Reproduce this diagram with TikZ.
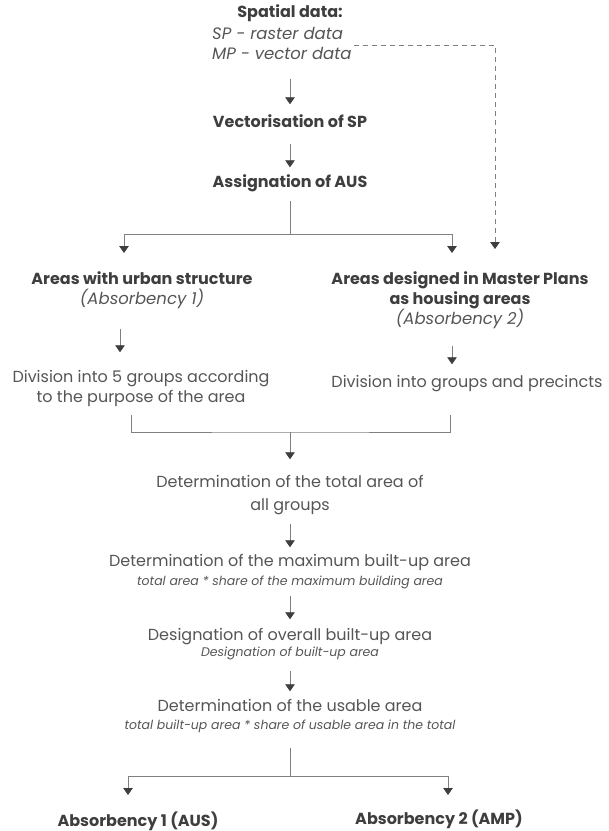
\documentclass[tikz,border=0pt]{standalone}
\usepackage{fontspec}
\setmainfont{Poppins}
\usetikzlibrary{arrows.meta}
\definecolor{txtgray}{HTML}{3E3E3E}
\definecolor{lightgray}{HTML}{555555}
\definecolor{linegray}{HTML}{808080}
\begin{document}
\begin{tikzpicture}[x=1pt, y=-1pt,
    lbl/.style={inner sep=0pt, text=lightgray, font=\fontsize{16}{19}\selectfont, text height=11.5pt, text depth=3.5pt},
    hdr/.style={lbl, text=txtgray, font=\fontsize{16}{19}\selectfont\bfseries},
    itl/.style={lbl, font=\fontsize{16.5}{19}\selectfont\itshape},
    sml/.style={lbl, font=\fontsize{12.5}{15}\selectfont\itshape, text height=9pt, text depth=2.5pt},
    link/.style={draw=linegray, line width=0.8pt},
    arr/.style={link, -{Triangle[width=9.5pt, length=7pt, color=txtgray]}, shorten <=10pt, shorten >=8pt},
    dashlink/.style={link, dashed, dash pattern=on 5pt off 4pt, -{Triangle[width=9.5pt, length=7pt, color=txtgray]}}]
    \useasboundingbox (0,0) rectangle (609,831);

    % input data
    \node [hdr] (spatial) at (290,13) {Spatial data:};
    \node [itl, anchor=west] (sp) at (212,35) {SP - raster data};
    \node [itl, anchor=west] (mp) at (212,55) {MP - vector data};

    \node [hdr] (vect) at (290,123) {Vectorisation of SP};
    \node [hdr] (assign) at (290,183) {Assignation of AUS};

    \draw [arr, shorten <=16pt, shorten >=11pt] (mp.south -| vect) -- (vect.north);
    \draw [arr, shorten <=13pt] (vect) -- (assign);

    % split into the two kinds of areas
    \coordinate (splitA) at (290,234);
    \coordinate (tipA1) at (124,253);
    \coordinate (tipA2) at (452,253);
    \draw [link, shorten <=10pt] (assign.south) -- (splitA);
    \draw [arr, shorten <=0pt, shorten >=0pt] (splitA) -| (tipA1);
    \draw [arr, shorten <=0pt, shorten >=0pt] (splitA) -| (tipA2);

    \coordinate (dashA) at (354,45);
    \coordinate (dashB) at (495,45);
    \coordinate (tipD) at (495,249);
    \draw [dashlink] (dashA) -- (dashB) -- (tipD);

    \node [hdr] (urban) at (142,280) {Areas with urban structure};
    \node [itl] (abs1) at (142,300) {(Absorbency 1)};
    \node [hdr] (master) at (460,280) {Areas designed in Master Plans};
    \node [hdr] (housing) at (460,300) {as housing areas};
    \node [itl] (abs2) at (460,320) {(Absorbency 2)};

    \node [lbl] (div1a) at (141,378) {Division into 5 groups according};
    \node [lbl] (div1b) at (141,398) {to the purpose of the area};
    \node [lbl] (div2) at (467,383) {Division into groups and precincts};

    \draw [arr, shorten <=21pt, shorten >=18pt] ([xshift=-22pt]abs1.south) -- ([xshift=-22pt]abs1.south |- div1a.north);
    \draw [arr, shorten <=18pt, shorten >=11pt] ([xshift=-8pt]abs2.south) -- ([xshift=-8pt]abs2.south |- div2.north);

    % joining the groups
    \coordinate (joinL) at (131,415);
    \coordinate (joinR) at (450,415);
    \coordinate (joinM) at (290,432);
    \draw [link] (joinL) |- (joinM) -| (joinR);

    \node [lbl] (total) at (290,483) {Determination of the total area of};
    \node [lbl] (totalb) at (290,506) {all groups};
    \draw [arr, shorten <=0pt, shorten >=16pt] (joinM) -- (total.north);

    \node [lbl] (maxbu) at (290,562) {Determination of the maximum built-up area};
    \node [sml] (maxbus) at (290,582) {total area * share of the maximum building area};
    \draw [arr, shorten >=7pt] (totalb) -- (maxbu);

    \node [lbl] (overall) at (290,636) {Designation of overall built-up area};
    \node [sml] (overalls) at (290,653) {Designation of built-up area};
    \draw [arr, shorten <=8pt, shorten >=9pt] (maxbus) -- (overall);

    \node [lbl] (usable) at (290,707) {Determination of the usable area};
    \node [sml] (usables) at (290,726) {total built-up area * share of usable area in the total};
    \draw [arr, shorten <=12pt] (overalls) -- (usable);

    % final split
    \coordinate (splitB) at (290,776);
    \coordinate (tipB1) at (128,795);
    \coordinate (tipB2) at (448,795);
    \draw [link, shorten <=16pt] (usables.south) -- (splitB);
    \draw [arr, shorten <=0pt, shorten >=0pt] (splitB) -| (tipB1);
    \draw [arr, shorten <=0pt, shorten >=0pt] (splitB) -| (tipB2);

    \node [hdr] (resA) at (138,822) {Absorbency 1 (AUS)};
    \node [hdr] (resB) at (439,820) {Absorbency 2 (AMP)};
\end{tikzpicture}
\end{document}
